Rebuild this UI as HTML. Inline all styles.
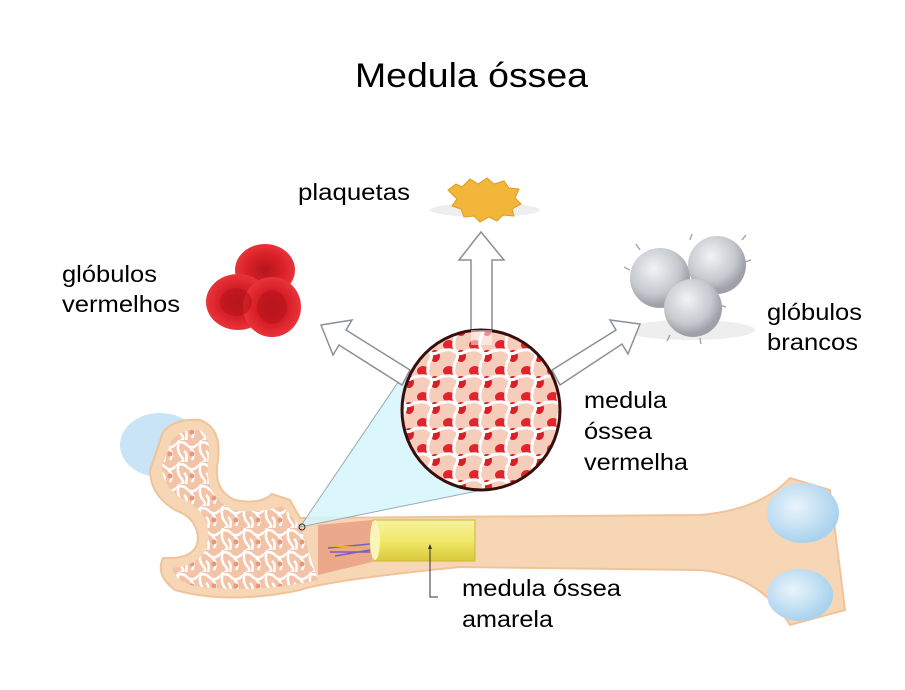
<!DOCTYPE html>
<html><head><meta charset="utf-8"><style>
html,body{margin:0;padding:0;background:#fff;}
svg{display:block;font-family:"Liberation Sans",Arial,sans-serif;}
</style></head><body>
<svg width="905" height="690" viewBox="0 0 905 690" xmlns="http://www.w3.org/2000/svg">
<defs>
<radialGradient id="rbc" cx="50%" cy="50%" r="50%"><stop offset="0" stop-color="#b3161c"/><stop offset="0.6" stop-color="#d92028"/><stop offset="1" stop-color="#e8343a"/></radialGradient>
<radialGradient id="wbc" cx="40%" cy="35%" r="60%"><stop offset="0" stop-color="#f2f3f5"/><stop offset="0.7" stop-color="#c5c8cd"/><stop offset="1" stop-color="#9ea2a8"/></radialGradient>
<radialGradient id="knob" cx="40%" cy="40%" r="60%"><stop offset="0" stop-color="#eaf4fb"/><stop offset="1" stop-color="#a9d2ee"/></radialGradient>
<linearGradient id="yel" x1="0" y1="0" x2="0" y2="1"><stop offset="0" stop-color="#f7f2a0"/><stop offset="0.5" stop-color="#f2e96a"/><stop offset="1" stop-color="#d9c93a"/></linearGradient>
<pattern id="sponge" width="22" height="22" patternUnits="userSpaceOnUse">
<rect width="22" height="22" fill="#f3c3a8"/>
<path d="M0 4 Q6 0 11 5 T22 4 M3 0 Q0 10 5 16 T4 22 M14 8 Q20 12 16 20 M8 11 Q12 14 10 22" stroke="#fff" stroke-width="2.5" fill="none"/>
<circle cx="16" cy="14" r="2.5" fill="#e59a7c"/>
</pattern>
<pattern id="marrow" width="26" height="26" patternUnits="userSpaceOnUse">
<rect width="26" height="26" fill="#f6cdbb"/>
<ellipse cx="7" cy="7" rx="6" ry="5" fill="#e3242b"/>
<ellipse cx="19" cy="18" rx="5" ry="6" fill="#d81f26"/>
<path d="M0 13 Q8 10 13 14 T26 12 M13 0 Q10 8 14 13 T12 26" stroke="#fff" stroke-width="3" fill="none"/>
</pattern>
</defs>

<text x="355" y="87" font-size="34" textLength="233" lengthAdjust="spacingAndGlyphs">Medula óssea</text>
<g font-size="23">
<text x="298" y="200" textLength="112" lengthAdjust="spacingAndGlyphs">plaquetas</text>
<text x="62" y="282" textLength="95" lengthAdjust="spacingAndGlyphs">glóbulos</text>
<text x="62" y="312" textLength="118" lengthAdjust="spacingAndGlyphs">vermelhos</text>
<text x="767" y="320" textLength="95" lengthAdjust="spacingAndGlyphs">glóbulos</text>
<text x="767" y="350" textLength="91" lengthAdjust="spacingAndGlyphs">brancos</text>
<text x="584" y="408" textLength="83" lengthAdjust="spacingAndGlyphs">medula</text>
<text x="584" y="439" textLength="68" lengthAdjust="spacingAndGlyphs">óssea</text>
<text x="584" y="470" textLength="104" lengthAdjust="spacingAndGlyphs">vermelha</text>
<text x="462" y="596" textLength="159" lengthAdjust="spacingAndGlyphs">medula óssea</text>
<text x="462" y="627" textLength="91" lengthAdjust="spacingAndGlyphs">amarela</text>
</g>

<ellipse cx="485" cy="210" rx="55" ry="7" fill="#eee"/>
<path d="M448 190 l8-6 6 3 8-8 8 5 9-6 7 6 10-3 5 7 10 1-4 9 6 6-9 5 2 7-11-1-6 6-8-4-9 5-6-6-10 1-3-8-9-3 5-7z" fill="#f2b63a" stroke="#e09a1c"/>

<ellipse cx="265" cy="270" rx="30" ry="26" fill="url(#rbc)"/>
<ellipse cx="238" cy="302" rx="32" ry="28" fill="url(#rbc)"/>
<ellipse cx="272" cy="307" rx="29" ry="30" fill="url(#rbc)"/>
<ellipse cx="272" cy="307" rx="15" ry="17" fill="#b8141a" opacity="0.6"/>
<ellipse cx="236" cy="302" rx="16" ry="14" fill="#b8141a" opacity="0.6"/>

<ellipse cx="690" cy="330" rx="65" ry="10" fill="#eee"/>
<circle cx="660" cy="278" r="30" fill="url(#wbc)"/>
<circle cx="717" cy="265" r="29" fill="url(#wbc)"/>
<circle cx="693" cy="308" r="29" fill="url(#wbc)"/>
<g stroke="#aaa" stroke-width="1.5">
<path d="M630 270 l-6-3 M640 250 l-4-6 M690 240 l2-6 M745 262 l6-2 M742 240 l4-5 M720 305 l6 2 M670 335 l-3 6 M700 338 l1 6"/></g>

<ellipse cx="160" cy="445" rx="40" ry="32" fill="#c9e4f6"/>
<path d="M163 432 Q175 418 200 420 Q222 428 218 460 Q212 490 235 500 Q260 505 272 494 L290 500 L300 518 L700 515 Q760 510 790 478 L830 490 L845 610 L790 625 Q760 575 700 570 L460 567 Q330 580 300 590 Q230 605 175 590 Q155 575 163 558 Q195 560 198 540 Q198 518 175 510 Q150 495 150 470 Z" fill="#f6d6b4" stroke="#efc49b" stroke-width="2"/>
<path d="M172 440 Q182 428 200 430 Q212 438 208 462 Q204 495 232 510 Q258 514 282 506 L300 525 L318 580 Q250 595 190 585 Q175 580 172 568 Q205 565 208 540 Q210 512 185 500 Q162 488 162 466 Z" fill="url(#sponge)"/>
<path d="M318 525 L372 520 L372 562 L318 575 Z" fill="#eba88a"/>
<path d="M328 548 l42-4 M330 552 l40 0 M335 556 l35-6" stroke="#7a5fc0" stroke-width="1.5"/>
<path d="M332 546 l38 2" stroke="#e3b930" stroke-width="1.5"/>
<path d="M373 520 L475 520 L475 561 L373 561 Z" fill="url(#yel)" stroke="#c9b63a"/>
<ellipse cx="375" cy="540" rx="5" ry="20" fill="#f9f4b8"/>
<ellipse cx="803" cy="513" rx="36" ry="30" fill="url(#knob)"/>
<ellipse cx="800" cy="595" rx="33" ry="26" fill="url(#knob)"/>

<path d="M300 527 L405 372 Q440 470 492 488 Z" fill="#d5f6fa" opacity="0.85"/>
<path d="M300 527 L405 372 M300 527 L492 488" stroke="#9ab" stroke-width="1"/>
<circle cx="302" cy="527" r="3" fill="none" stroke="#333"/>

<path d="M430 548 V597 H438" stroke="#333" fill="none"/>
<path d="M430 544 l-2 5 h4 z" fill="#333"/>

<g fill="#fff" stroke="#8a9099" stroke-width="1.5">
<path d="M471 340 V260 H459 L481 232 L504 260 H492 V340 Z"/>
<path d="M410 370 L346 330 L352 320 L321 325 L333 355 L339 345 L402 385 Z"/>
<path d="M552 370 L616 330 L610 320 L640 324 L628 354 L622 344 L560 385 Z"/>
</g>

<ellipse cx="481" cy="410" rx="79" ry="80" fill="url(#marrow)" stroke="#3a0d0d" stroke-width="3"/>
<path d="M471 330 V345 H492 V330" fill="#fff" opacity="0.5"/>
</svg>
</body></html>
